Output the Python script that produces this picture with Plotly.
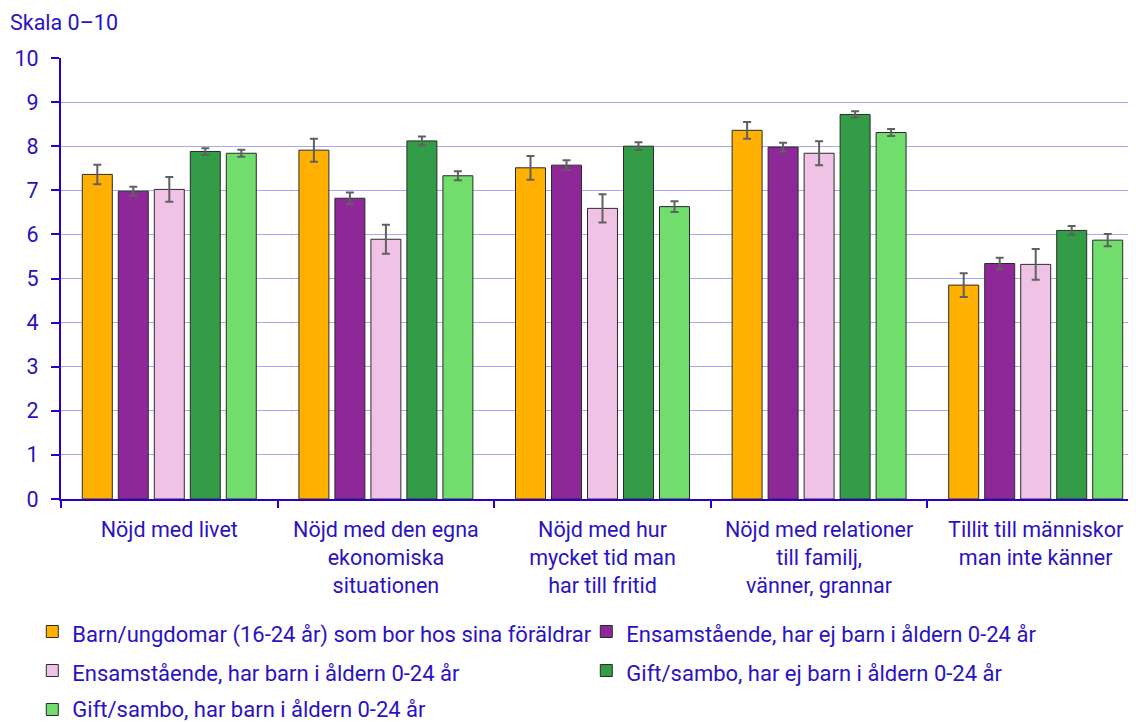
import plotly.graph_objects as go

categories = [
    "Nöjd med livet",
    "Nöjd med den egna<br>ekonomiska<br>situationen",
    "Nöjd med hur<br>mycket tid man<br>har till fritid",
    "Nöjd med relationer<br>till familj,<br>vänner, grannar",
    "Tillit till människor<br>man inte känner",
]

series_names = [
    "Barn/ungdomar (16-24 år) som bor hos sina föräldrar",
    "Ensamstående, har ej barn i åldern 0-24 år",
    "Ensamstående, har barn i åldern 0-24 år",
    "Gift/sambo, har ej barn i åldern 0-24 år",
    "Gift/sambo, har barn i åldern 0-24 år",
]

values_barn = [7.36, 7.91, 7.51, 8.36, 4.85]
values_ens_ejbarn = [6.98, 6.82, 7.57, 7.98, 5.34]
values_ens_barn = [7.02, 5.89, 6.59, 7.84, 5.32]
values_gift_ejbarn = [7.88, 8.12, 8.00, 8.72, 6.09]
values_gift_barn = [7.84, 7.33, 6.63, 8.31, 5.87]

err_barn = [0.22, 0.26, 0.27, 0.19, 0.27]
err_ens_ejbarn = [0.10, 0.13, 0.11, 0.10, 0.13]
err_ens_barn = [0.28, 0.33, 0.32, 0.27, 0.35]
err_gift_ejbarn = [0.075, 0.10, 0.087, 0.07, 0.10]
err_gift_barn = [0.08, 0.10, 0.12, 0.08, 0.14]

colors = ["#FFB000", "#8E2899", "#F0C3E6", "#339C46", "#70DD6C"]
legend_ids = ["legend", "legend", "legend", "legend", "legend2"]

all_values = [values_barn, values_ens_ejbarn, values_ens_barn, values_gift_ejbarn, values_gift_barn]
all_errs = [err_barn, err_ens_ejbarn, err_ens_barn, err_gift_ejbarn, err_gift_barn]

TEXT = "#2A12C4"
FONT = "Roboto"
FS = 21.5
LFS = 22

fig = go.Figure()
for name, vals, errs, col, lg in zip(series_names, all_values, all_errs, colors, legend_ids):
    fig.add_trace(go.Bar(
        x=categories, y=vals,
        name=f'<span style="font-size:{LFS}px">{name}</span>',
        legend=lg,
        marker=dict(color=col, line=dict(color="#2b2b2b", width=1)),
        error_y=dict(type="data", array=errs, visible=True, color="#606060", thickness=2, width=4),
    ))

LEG_X = -0.0265
fig.update_layout(
    width=1136, height=722,
    margin=dict(l=53, r=0, t=50, b=231),
    paper_bgcolor="white", plot_bgcolor="white",
    barmode="group", bargap=0.169, bargroupgap=0.167,
    font=dict(family=FONT, size=FS, color=TEXT),
    showlegend=True,
    legend=dict(
        orientation="h", x=LEG_X, xanchor="left", y=-0.2449, yanchor="top",
        font=dict(family=FONT, size=27.7, color=TEXT),
        entrywidth=509, entrywidthmode="pixels",
        traceorder="normal",
    ),
    legend2=dict(
        orientation="h", x=LEG_X, xanchor="left", y=-0.436, yanchor="top",
        font=dict(family=FONT, size=18, color=TEXT),
        entrywidth=509, entrywidthmode="pixels",
        traceorder="normal",
    ),
    annotations=[dict(
        text="Skala 0–10", xref="paper", yref="paper", x=-0.049, y=1.0816,
        xanchor="left", yanchor="middle", showarrow=False,
        font=dict(family=FONT, size=FS, color=TEXT),
    )],
)

fig.update_xaxes(
    type="category", range=[-0.5, 4.5],
    showline=True, linecolor="#2A00C8", linewidth=2,
    ticks="outside", tickson="boundaries", ticklen=7, tickcolor="#2A00C8", tickwidth=2,
    ticklabelstandoff=10,
    showgrid=False, tickfont=dict(family=FONT, size=FS, color=TEXT),
)
fig.update_yaxes(
    range=[0, 10], dtick=1,
    showline=True, linecolor="#2A00C8", linewidth=2,
    ticks="outside", ticklen=8, tickcolor="#2A00C8", tickwidth=2,
    ticklabelstandoff=8,
    showgrid=True, gridcolor="#A9A9F2", gridwidth=1,
    zeroline=False,
    tickfont=dict(family=FONT, size=FS, color=TEXT),
)

fig.write_html("out.html")
